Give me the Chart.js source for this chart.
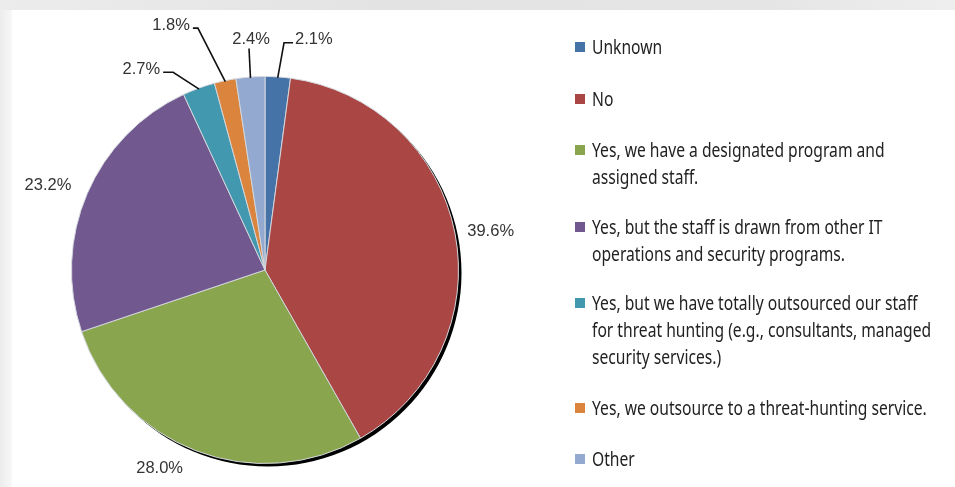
<!DOCTYPE html>
<html>
<head>
<meta charset="utf-8">
<title>Threat hunting staffing</title>
<script src="https://cdn.jsdelivr.net/npm/chart.js@4/dist/chart.umd.min.js"></script>
<style>
  html, body { margin: 0; padding: 0; }
  body { width: 955px; height: 487px; position: relative; overflow: hidden; background: #fff; }
  #topband { position: absolute; left: 0; top: 0; width: 955px; height: 10px;
    background: linear-gradient(to right, #ececec 0%, #e3e3e3 40%, #e5e5e5 80%, #eeeeee 100%); }
  #leftband { position: absolute; left: 0; top: 10px; width: 12px; height: 477px;
    background: linear-gradient(to right, #ececec 0%, #f3f3f3 60%, #f8f8f8 100%); }
  #wrap { position: absolute; left: 0; top: 0; width: 955px; height: 487px; }
  #legend { position: absolute; left: 575px; top: 0; font-family: "Noto Sans", "Open Sans", sans-serif;
    font-size: 20px; color: #222; }
  .item { position: absolute; left: 0; white-space: nowrap; }
  .sw { position: absolute; left: 0; width: 10px; height: 10px; }
  .txt { position: absolute; left: 17px; line-height: 27px; transform: scaleX(0.782); transform-origin: 0 0; }
</style>
</head>
<body>
<div id="topband"></div>
<div id="leftband"></div>
<div id="wrap"><canvas id="chart" width="955" height="487"></canvas></div>
<div id="legend"></div>
<script>
// Survey answers, in slice order (clockwise from 12 o'clock)
const categories = [
  ["Unknown"],
  ["No"],
  ["Yes, we have a designated program and", "assigned staff."],
  ["Yes, but the staff is drawn from other IT", "operations and security programs."],
  ["Yes, but we have totally outsourced our staff", "for threat hunting (e.g., consultants, managed", "security services.)"],
  ["Yes, we outsource to a threat-hunting service."],
  ["Other"]
];
const shares = [2.1, 39.6, 28.0, 23.2, 2.7, 1.8, 2.4];
const valueLabels = shares.map(v => v.toFixed(1) + "%");
const colors = ["#4572A7", "#AA4643", "#89A54E", "#71588F", "#4198AF", "#DB843D", "#93A9CF"];

// Where each percentage label sits: plain labels are placed at a distance from the centre
// (angle shifted from the slice middle); small slices get an elbow leader line.
const labelPlacement = [
  { elbowDist: 228, elbowShift: 1.0, tail: 9, side: "right" },
  { dist: 229, shift: 1.2 },
  { dist: 225, shift: 7.0 },
  { dist: 233, shift: -1.9 },
  { elbowDist: 218, elbowShift: -4.9, tail: -10, side: "left" },
  { elbowDist: 251, elbowShift: -3.6, tail: -5, side: "left" },
  { elbowDist: 222, elbowShift: 0.2, tail: 0, side: "top" }
];

const LABEL_FONT = '16.5px "Liberation Sans", Arial, sans-serif';

const pieShadow = {
  id: "pieShadow",
  beforeDatasetsDraw(chart) {
    const arc = chart.getDatasetMeta(0).data[0];
    if (!arc) return;
    const ctx = chart.ctx;
    ctx.save();
    ctx.beginPath();
    ctx.arc(arc.x + 3, arc.y + 3, arc.outerRadius, 0, Math.PI * 2);
    ctx.fillStyle = "#000";
    ctx.fill();
    ctx.restore();
  }
};

const pieLabels = {
  id: "pieLabels",
  afterDatasetsDraw(chart) {
    const ctx = chart.ctx;
    const meta = chart.getDatasetMeta(0);
    ctx.save();
    ctx.font = LABEL_FONT;
    ctx.fillStyle = "#333";
    ctx.strokeStyle = "#111";
    ctx.lineWidth = 1.6;
    meta.data.forEach((arc, i) => {
      const p = labelPlacement[i];
      const mid = (arc.startAngle + arc.endAngle) / 2;
      const cx = arc.x, cy = arc.y, r = arc.outerRadius;
      if (p.dist !== undefined) {
        const a = mid + p.shift * Math.PI / 180;
        ctx.textAlign = "center";
        ctx.textBaseline = "middle";
        ctx.fillText(valueLabels[i], cx + Math.cos(a) * p.dist, cy + Math.sin(a) * p.dist);
        return;
      }
      const sx = cx + Math.cos(mid) * (r - 1);
      const sy = cy + Math.sin(mid) * (r - 1);
      const ea = mid + p.elbowShift * Math.PI / 180;
      const ex = cx + Math.cos(ea) * p.elbowDist;
      const ey = cy + Math.sin(ea) * p.elbowDist;
      const tx = ex + p.tail;
      ctx.beginPath();
      ctx.moveTo(sx, sy);
      ctx.lineTo(ex, ey);
      ctx.lineTo(tx, ey);
      ctx.stroke();
      if (p.side === "right") {
        ctx.textAlign = "left"; ctx.textBaseline = "middle";
        ctx.fillText(valueLabels[i], tx + 2, ey - 3);
      } else if (p.side === "left") {
        ctx.textAlign = "right"; ctx.textBaseline = "middle";
        ctx.fillText(valueLabels[i], tx - 3, ey - 3);
      } else {
        ctx.textAlign = "center"; ctx.textBaseline = "bottom";
        ctx.fillText(valueLabels[i], ex + 2, ey - 1);
      }
    });
    ctx.restore();
  }
};

new Chart(document.getElementById("chart"), {
  type: "pie",
  data: {
    labels: categories.map(c => c.join(" ")),
    datasets: [{
      data: shares,
      backgroundColor: colors,
      borderColor: "#d4d8de",
      borderWidth: 1
    }]
  },
  options: {
    responsive: false,
    animation: false,
    layout: { padding: { left: 71, top: 76, right: 496, bottom: 23 } },
    plugins: { legend: { display: false }, tooltip: { enabled: false } }
  },
  plugins: [pieShadow, pieLabels]
});

// Legend: square swatch + wrapped text lines
const legendTops = [47, 99, 150, 227, 303, 408, 459]; // first-line centre of each entry
const legend = document.getElementById("legend");
categories.forEach((lines, i) => {
  const item = document.createElement("div");
  item.className = "item";
  item.style.top = (legendTops[i] - 14.5) + "px";
  const sw = document.createElement("div");
  sw.className = "sw";
  sw.style.background = colors[i];
  sw.style.top = "9.5px";
  const txt = document.createElement("div");
  txt.className = "txt";
  txt.innerHTML = lines.map(l => l.replace(/&/g, "&amp;").replace(/</g, "&lt;")).join("<br>");
  item.appendChild(sw);
  item.appendChild(txt);
  legend.appendChild(item);
});
</script>
</body>
</html>
